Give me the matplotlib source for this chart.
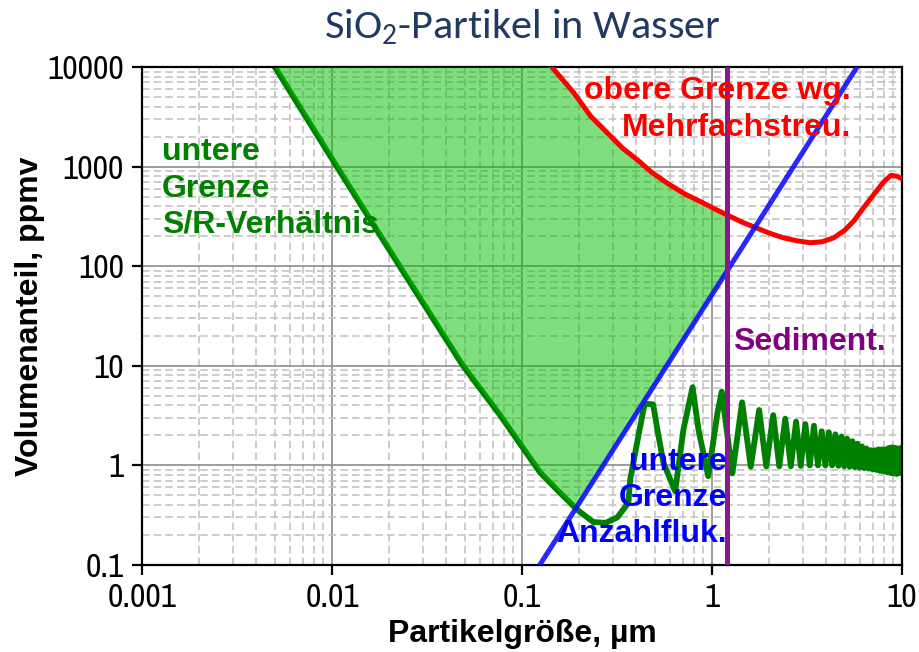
import numpy as np
import matplotlib
matplotlib.use("Agg")
import matplotlib.pyplot as plt
from matplotlib import font_manager
from matplotlib.ticker import FixedLocator, FixedFormatter, LogLocator, NullFormatter

# ---------------- data ----------------
x_ticks = [0.001, 0.01, 0.1, 1, 10]
x_tick_labels = ["0.001", "0.01", "0.1", "1", "10"]
y_ticks = [0.1, 1, 10, 100, 1000, 10000]
y_tick_labels = ["0.1", "1", "10", "100", "1000", "10000"]

# lower limit from signal/noise ratio (µm, ppmv)
sn_size = [0.005, 0.0106, 0.0227, 0.0489, 0.0766, 0.0976, 0.1245, 0.1586, 0.195,
           0.237, 0.276, 0.317, 0.363, 0.371, 0.409, 0.44, 0.455, 0.49, 0.516,
           0.555, 0.64, 0.707, 0.79, 0.849, 0.955, 1.069, 1.125, 1.28, 1.44,
           1.60, 1.77, 1.93, 2.10, 2.26, 2.43, 2.60, 2.77, 2.93, 3.10, 3.27,
           3.44, 3.61, 3.78, 3.95, 4.12, 4.29, 4.46, 4.63, 4.80, 4.97, 5.14,
           5.31, 5.48, 5.65, 5.82, 5.99, 6.16, 6.33, 6.50, 6.67, 6.84, 7.01,
           7.18, 7.35, 7.52, 7.69, 7.86, 8.03, 8.20, 8.37, 8.54, 8.71, 8.88,
           9.05, 9.22, 9.39, 9.56, 9.73, 9.90, 10.0]
sn_conc = [10000, 1000, 100, 10, 3.2, 1.65, 0.85, 0.53, 0.36,
           0.27, 0.265, 0.30, 0.42, 0.72, 1.94, 4.0, 4.15, 4.1, 2.28,
           1.06, 0.55, 2.28, 6.1, 2.28, 0.78, 3.38, 5.5, 0.83, 4.3,
           0.97, 3.6, 0.98, 3.2, 0.98, 2.95, 0.98, 2.75, 0.99, 2.6, 1.0,
           2.5, 1.0, 2.2, 1.0, 2.15, 1.0, 2.05, 0.99, 1.95, 0.98, 1.85,
           0.97, 1.75, 0.96, 1.65, 0.95, 1.55, 0.94, 1.48, 0.93, 1.42, 0.91,
           1.42, 0.90, 1.45, 0.88, 1.45, 0.87, 1.45, 0.85, 1.5, 0.84, 1.52,
           0.83, 1.5, 0.82, 1.48, 0.84, 1.5, 1.2]

# upper limit due to multiple scattering
ms_size = [0.1435, 0.1875, 0.23, 0.294, 0.34, 0.407, 0.48, 0.589, 0.72, 0.887,
           1.05, 1.23, 1.45, 1.71, 2.0, 2.37, 2.8, 3.29, 3.8, 4.38, 5.0, 5.58,
           6.3, 7.14, 8.0, 8.75, 9.4, 10.0]
ms_conc = [10000, 5500, 3200, 2005, 1520, 1160, 880, 671, 530, 437,
           370, 320, 275, 243, 215, 193, 180, 172, 176, 193, 230, 285,
           390, 531, 700, 818, 800, 755]

# lower limit from number fluctuation
nf_size = [0.124, 5.8]
nf_conc = [0.1, 10000]

# sedimentation limit (µm)
sed_size = 1.2

# ---------------- fonts ----------------
installed = {f.name for f in font_manager.fontManager.ttflist}


def first_installed(names, fallback):
    for n in names:
        if n in installed:
            return n
    return fallback


tick_font = first_installed(["Liberation Sans Narrow", "Arial Narrow", "Archivo Narrow",
                             "PT Sans Narrow", "Roboto Condensed"], "Liberation Sans")
tick_size = {"Liberation Sans Narrow": 23, "Arial Narrow": 23,
             "Roboto Condensed": 22, "Liberation Sans": 20}.get(tick_font, 24)
bold_font = "Liberation Sans"
title_font = first_installed(["Carlito", "Calibri"], None)
title_size = 30.5
if title_font is None:
    title_font = first_installed(["Open Sans"], "DejaVu Sans")
    title_size = 26.5
plt.rcParams["mathtext.default"] = "regular"

GREEN = "#008000"
RED = "#ff0000"
BLUE = "#1010ff"
PURPLE = "#8a1a8a"

fig = plt.figure(figsize=(9.19, 6.52), dpi=100)
ax = fig.add_axes([142 / 919, 1 - 565 / 652, 760 / 919, 498 / 652])
ax.set_xscale("log")
ax.set_yscale("log")
ax.set_xlim(x_ticks[0], x_ticks[-1])
ax.set_ylim(y_ticks[0], y_ticks[-1])

# grid
ax.set_axisbelow(True)
ax.xaxis.set_minor_locator(LogLocator(base=10, subs=np.arange(2, 10)))
ax.yaxis.set_minor_locator(LogLocator(base=10, subs=np.arange(2, 10)))
ax.xaxis.set_minor_formatter(NullFormatter())
ax.yaxis.set_minor_formatter(NullFormatter())
ax.grid(which="major", color="#8c8c8c", lw=1.2, ls="-", zorder=0)
ax.grid(which="minor", color="#c4c4c4", lw=1.2, ls=(0, (4.5, 2.5)), zorder=0)

# ticks
ax.xaxis.set_major_locator(FixedLocator(x_ticks))
ax.xaxis.set_major_formatter(FixedFormatter(x_tick_labels))
ax.yaxis.set_major_locator(FixedLocator(y_ticks))
ax.yaxis.set_major_formatter(FixedFormatter(y_tick_labels))
ax.tick_params(which="major", direction="out", length=7, width=1.6, pad=6,
               labelsize=tick_size, colors="black")
ax.tick_params(which="minor", length=0)
for lab in ax.get_xticklabels() + ax.get_yticklabels():
    lab.set_fontfamily(tick_font)

for sp in ax.spines.values():
    sp.set_linewidth(1.6)
    sp.set_color("black")

# curves
ax.plot(sn_size, sn_conc, color=GREEN, lw=4.2, zorder=2)

# admissible region between the limits, left of the sedimentation limit
xf = np.geomspace(sn_size[0], sed_size, 800)
lx = np.log10(xf)
lower_sn = np.interp(lx, np.log10(sn_size), np.log10(sn_conc))
lower_nf = np.interp(lx, np.log10(nf_size), np.log10(nf_conc))
upper = np.interp(lx, np.log10(ms_size), np.log10(ms_conc), left=np.log10(y_ticks[-1]))
lower = np.maximum(lower_sn, lower_nf)
ax.fill_between(xf, 10 ** lower, 10 ** upper, where=upper > lower, interpolate=True,
                color="#00c000", alpha=0.5, lw=0, zorder=3)

ax.plot(ms_size, ms_conc, color=RED, lw=3.6, zorder=4)
ax.plot(nf_size, nf_conc, color=BLUE, lw=3.6, zorder=4, alpha=0.9)
ax.axvline(sed_size, color=PURPLE, lw=3.6, zorder=5)

# labels of the limits
txt = dict(fontfamily=bold_font, fontweight="bold", fontsize=23, transform=ax.transAxes,
           va="baseline", zorder=7)
for s, y in zip(["untere", "Grenze", "S/R-Verhältnis"], [0.813, 0.739, 0.667]):
    ax.text(0.026, y, s, color=GREEN, ha="left", **txt)
for s, y in zip(["obere Grenze wg.", "Mehrfachstreu."], [0.936, 0.862]):
    ax.text(0.933, y, s, color=RED, ha="right", **txt)
for s, y in zip(["untere", "Grenze", "Anzahlfluk."], [0.191, 0.118, 0.046]):
    ax.text(0.770, y, s, color="#0000ff", ha="right", **txt)
ax.text(0.778, 0.432, "Sediment.", color="#800080", ha="left", **txt)

ax.set_xlabel("Partikelgröße, µm", fontfamily=bold_font, fontweight="bold",
              fontsize=23, labelpad=4)
ax.set_ylabel("Volumenanteil, ppmv", fontfamily=bold_font, fontweight="bold",
              fontsize=23)
ax.yaxis.set_label_coords(-0.127, 0.5)
ax.set_title("SiO$_2$-Partikel in Wasser", fontfamily=title_font, fontsize=title_size,
             color="#1f3a63", pad=21)

fig.savefig("out.png", dpi=100)
